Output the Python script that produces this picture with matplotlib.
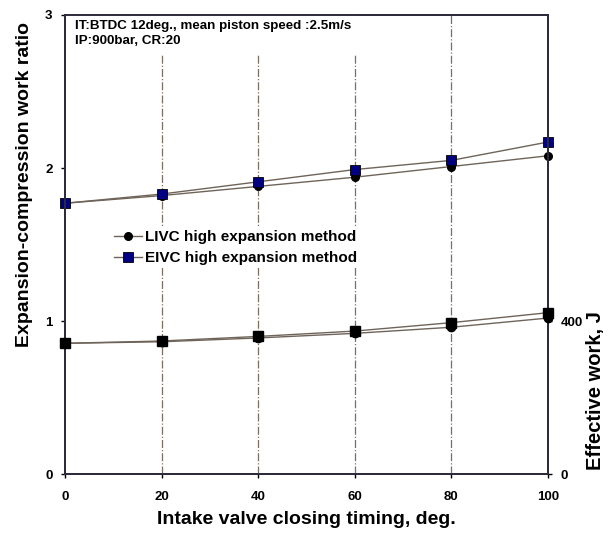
import matplotlib
matplotlib.use("Agg")
import matplotlib.pyplot as plt

plt.rcParams['font.family'] = ['Liberation Sans', 'DejaVu Sans']
plt.rcParams['font.weight'] = 'bold'

# intake valve closing timing, deg.
ivc = [0, 20, 40, 60, 80, 100]

# expansion-compression work ratio
ratio_livc = [1.77, 1.82, 1.88, 1.94, 2.01, 2.08]
ratio_eivc = [1.77, 1.83, 1.91, 1.99, 2.05, 2.17]

# effective work, J
work_livc = [342, 346, 356, 368, 384, 408]
work_eivc = [342, 348, 360, 374, 396, 422]

line_c = '#6f645a'
grid_c = '#7d6e60'
spine_c = '#2c2c3c'

fig = plt.figure(figsize=(6.13, 5.34), dpi=100)
ax = fig.add_axes([0.106, 0.112, 0.788, 0.86])
ax2 = ax.twinx()

ax.set_xlim(0, 100)
ax.set_ylim(0, 3)
ax2.set_ylim(0, 1200)

for x in [20, 40, 60, 80]:
    ax.axvline(x, color=grid_c, lw=0.9, ls='-.', zorder=0)

l1, = ax.plot(ivc, ratio_livc, color=line_c, lw=1.0, marker='o', ms=5.5,
              mfc='black', mec='black', label='LIVC high expansion method',
              zorder=3, clip_on=False)
l2, = ax.plot(ivc, ratio_eivc, color=line_c, lw=1.0, marker='s', ms=7,
              mfc='#000080', mec='black', mew=0.6, label='EIVC high expansion method',
              zorder=3, clip_on=False)

ax2.plot(ivc, work_livc, color=line_c, lw=1.0, marker='o', ms=6,
         mfc='black', mec='black', zorder=3, clip_on=False)
ax2.plot(ivc, work_eivc, color=line_c, lw=1.0, marker='s', ms=7,
         mfc='black', mec='black', zorder=3, clip_on=False)

ax.set_xticks(ivc)
ax.set_yticks([0, 1, 2, 3])
ax2.set_yticks([0, 400])
for a in (ax, ax2):
    a.tick_params(labelsize=9.5, width=1, length=3, colors='black')
    for s in a.spines.values():
        s.set_color(spine_c)
        s.set_linewidth(1.4)
    for t in a.get_xticklabels() + a.get_yticklabels():
        t.set_fontweight('bold')
ax.tick_params(axis='x', pad=9)
ax.tick_params(axis='y', pad=6)
ax2.tick_params(axis='y', pad=6)

ax.set_xlabel('Intake valve closing timing, deg.', fontsize=14, fontweight='bold', labelpad=6)
fig.text(0.040, 0.655, 'Expansion-compression work ratio', rotation=90,
         ha='center', va='center', fontsize=14, fontweight='bold')
fig.text(0.972, 0.268, 'Effective work, J', rotation=90,
         ha='center', va='center', fontsize=14.5, fontweight='bold')

ax.text(2, 2.97, 'IT:BTDC 12deg., mean piston speed :2.5m/s\nIP:900bar, CR:20',
        ha='left', va='top', fontsize=9.6, fontweight='bold', linespacing=1.4,
        bbox=dict(facecolor='white', edgecolor='none', pad=6), zorder=4)

leg = ax.legend(handles=[l1, l2], loc='upper left', bbox_to_anchor=(0.08, 0.555),
                frameon=True, fontsize=11, handlelength=1.8, handletextpad=0.2,
                labelspacing=0.45, borderpad=0.2)
leg.get_frame().set_edgecolor('none')
leg.get_frame().set_facecolor('white')
leg.get_frame().set_alpha(1)
for t in leg.get_texts():
    t.set_fontweight('bold')
leg.set_zorder(5)

fig.savefig('out.png', dpi=100)
